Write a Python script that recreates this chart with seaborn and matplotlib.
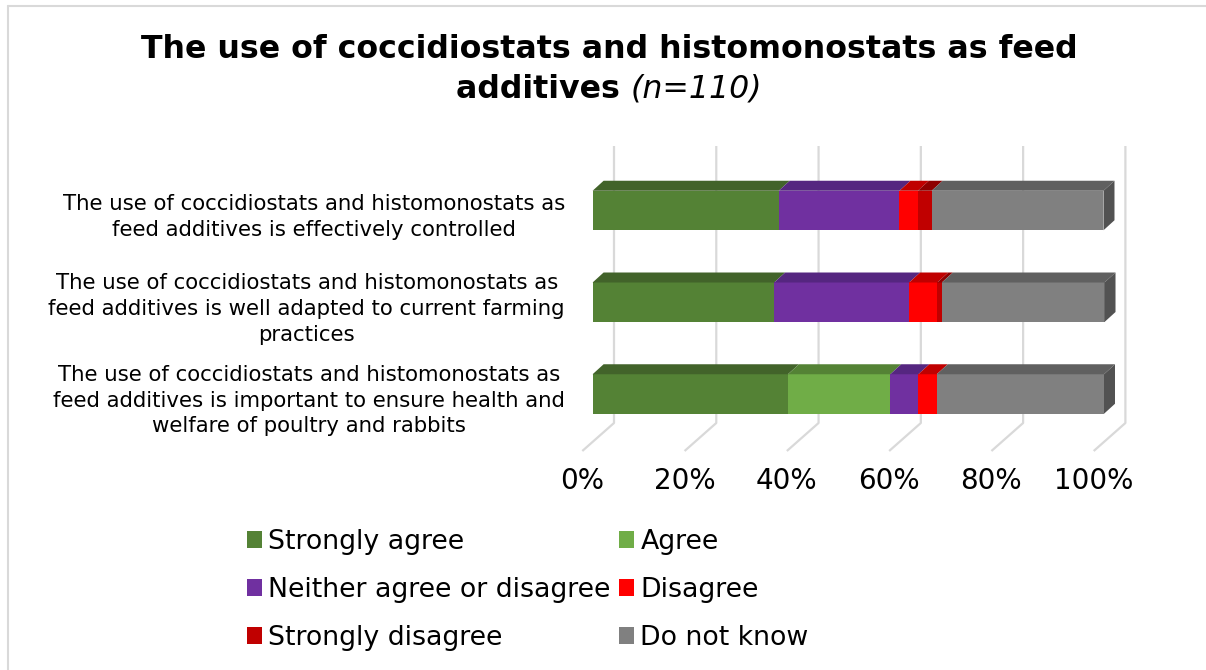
import numpy as np
import pandas as pd
import matplotlib
matplotlib.use("Agg")
import matplotlib.pyplot as plt
from matplotlib.patches import Patch, Polygon
import seaborn as sns

# ---- data: share of respondents (%, n=110) per statement ----
statements = [
    "The use of coccidiostats and histomonostats as\nfeed additives is effectively controlled",
    "The use of coccidiostats and histomonostats as\nfeed additives is well adapted to current farming\npractices",
    "The use of coccidiostats and histomonostats as\nfeed additives is important to ensure health and\nwelfare of poultry and rabbits",
]
responses = ["Strongly agree", "Agree", "Neither agree or disagree",
             "Disagree", "Strongly disagree", "Do not know"]
strongly_agree = [36.4, 35.5, 38.2]
agree = [0.0, 0.0, 20.0]
neither = [23.6, 26.4, 5.5]
disagree = [3.6, 5.5, 3.6]
strongly_disagree = [2.7, 0.9, 0.0]
do_not_know = [33.6, 31.8, 32.7]
tick_values = [0, 20, 40, 60, 80, 100]
tick_labels = ["0%", "20%", "40%", "60%", "80%", "100%"]

# ---- styling ----
front_colors = ["#548235", "#70ad47", "#7030a0", "#ff0000", "#c00000", "#808080"]
top_colors = ["#42632a", "#548235", "#552680", "#c00000", "#8e0000", "#606060"]
side_color = "#525252"
grid_color = "#d9d9d9"

sns.set_style("white")
plt.rcParams["font.family"] = ["DejaVu Sans"]
plt.rcParams["text.color"] = "#000000"

W, H = 1206, 670
fig = plt.figure(figsize=(W / 100, H / 100), dpi=100)


def fx(px):
    return px / W


def fy(py):
    return 1 - py / H


# plotting area (pixel box) and its data scale
ax_l, ax_r, ax_t, ax_b = 570, 1140, 130, 460
x0_px, px_per_pct = 592.6, 5.114
y0_px, px_per_row = 210.5, 91.75
ax = fig.add_axes([fx(ax_l), fy(ax_b), (ax_r - ax_l) / W, (ax_b - ax_t) / H])

bar_h = 39.5 / px_per_row           # front face height (rows)
depth_x = 11.0 / px_per_pct         # 3-D depth offset (percent units)
depth_y = 10.0 / px_per_row         # 3-D depth offset (row units)
wall_x = 21.4 / px_per_pct          # back-wall offset of the gridlines
floor_x = -10.3 / px_per_pct        # front edge of the floor
grid_top = (146 - y0_px) / px_per_row
grid_bend = (423 - y0_px) / px_per_row
grid_floor = (451 - y0_px) / px_per_row

keys = ["s1", "s2", "s3"]
values = np.array([strongly_agree, agree, neither, disagree,
                   strongly_disagree, do_not_know]).T   # rows = statements
right = np.cumsum(values, axis=1)
left = right - values

df = pd.DataFrame(right, columns=responses)
df["statement"] = keys

# gridlines on back wall and floor
for p in tick_values:
    ax.plot([p + wall_x, p + wall_x, p + floor_x],
            [grid_top, grid_bend, grid_floor],
            color=grid_color, lw=1.6, zorder=0, solid_capstyle="butt")

# front faces: stacked by overlaying cumulative totals
for k in reversed(range(len(responses))):
    sns.barplot(data=df, x=responses[k], y="statement", color=front_colors[k],
                saturation=1, width=bar_h, orient="h", ax=ax,
                linewidth=0, zorder=2)

# top faces and the right-hand side face
for i in range(len(keys)):
    y_top = i - bar_h / 2
    y_bot = i + bar_h / 2
    for k in range(len(responses)):
        if values[i, k] <= 0:
            continue
        L, R = left[i, k], right[i, k]
        ax.add_patch(Polygon([(L, y_top), (R, y_top),
                              (R + depth_x, y_top - depth_y),
                              (L + depth_x, y_top - depth_y)],
                             closed=True, facecolor=top_colors[k],
                             edgecolor="none", zorder=3))
    R = right[i, -1]
    ax.add_patch(Polygon([(R, y_top), (R + depth_x, y_top - depth_y),
                          (R + depth_x, y_bot - depth_y), (R, y_bot)],
                         closed=True, facecolor=side_color,
                         edgecolor="none", zorder=3))

ax.set_xlim((ax_l - x0_px) / px_per_pct, (ax_r - x0_px) / px_per_pct)
ax.set_ylim((ax_b - y0_px) / px_per_row, (ax_t - y0_px) / px_per_row)

# percent labels sit at the front edge of the floor
ax.set_xticks([p + floor_x for p in tick_values], labels=tick_labels)
ax.tick_params(axis="x", length=0, pad=4.8, labelsize=20, labelcolor="#000000")
ax.set_yticks([i + 0.02 for i in range(len(keys))], labels=statements)
ax.tick_params(axis="y", length=0, pad=3.6, labelsize=15.3, labelcolor="#000000")
for lab in ax.get_yticklabels():
    lab.set_multialignment("center")
    lab.set_linespacing(1.36)
ax.set_xlabel("")
ax.set_ylabel("")
for s in ax.spines.values():
    s.set_visible(False)
ax.set_facecolor("none")

# title: bold first line, mixed bold / italic second line
cx = 609
title_size = 22.8
fig.text(fx(cx), fy(58.5), "The use of coccidiostats and histomonostats as feed",
         ha="center", va="baseline", fontsize=title_size, fontweight="bold",
         color="#000000")
t1 = fig.text(0, fy(97.5), "additives ", ha="left", va="baseline",
              fontsize=title_size, fontweight="bold", color="#000000")
t2 = fig.text(0, fy(97.5), "(n=110)", ha="left", va="baseline",
              fontsize=title_size, fontstyle="italic", color="#000000")
fig.canvas.draw()
r = fig.canvas.get_renderer()
w1 = t1.get_window_extent(r).width
w2 = t2.get_window_extent(r).width
start = cx - (w1 + w2) / 2
t1.set_x(fx(start))
t2.set_x(fx(start + w1))

# legend, filled row by row (two columns)
order = [0, 2, 4, 1, 3, 5]
handles = [Patch(facecolor=front_colors[k], edgecolor="none") for k in order]
labels = [responses[k] for k in order]
leg = fig.legend(handles, labels, loc="upper left",
                 bbox_to_anchor=(fx(247), fy(529)), ncol=2, frameon=False,
                 fontsize=19.3, handlelength=0.57, handleheight=0.57,
                 handletextpad=0.23, columnspacing=0.3, labelspacing=0.82,
                 borderpad=0, borderaxespad=0)
for t in leg.get_texts():
    t.set_color("#000000")

# chart-area border (left and top edges)
fig.add_artist(plt.Line2D([fx(8), fx(8)], [fy(670), fy(6)],
                          color=grid_color, lw=1.5, transform=fig.transFigure))
fig.add_artist(plt.Line2D([fx(8), fx(1206)], [fy(6), fy(6)],
                          color=grid_color, lw=1.5, transform=fig.transFigure))

fig.savefig("out.png", dpi=100, facecolor="white")
